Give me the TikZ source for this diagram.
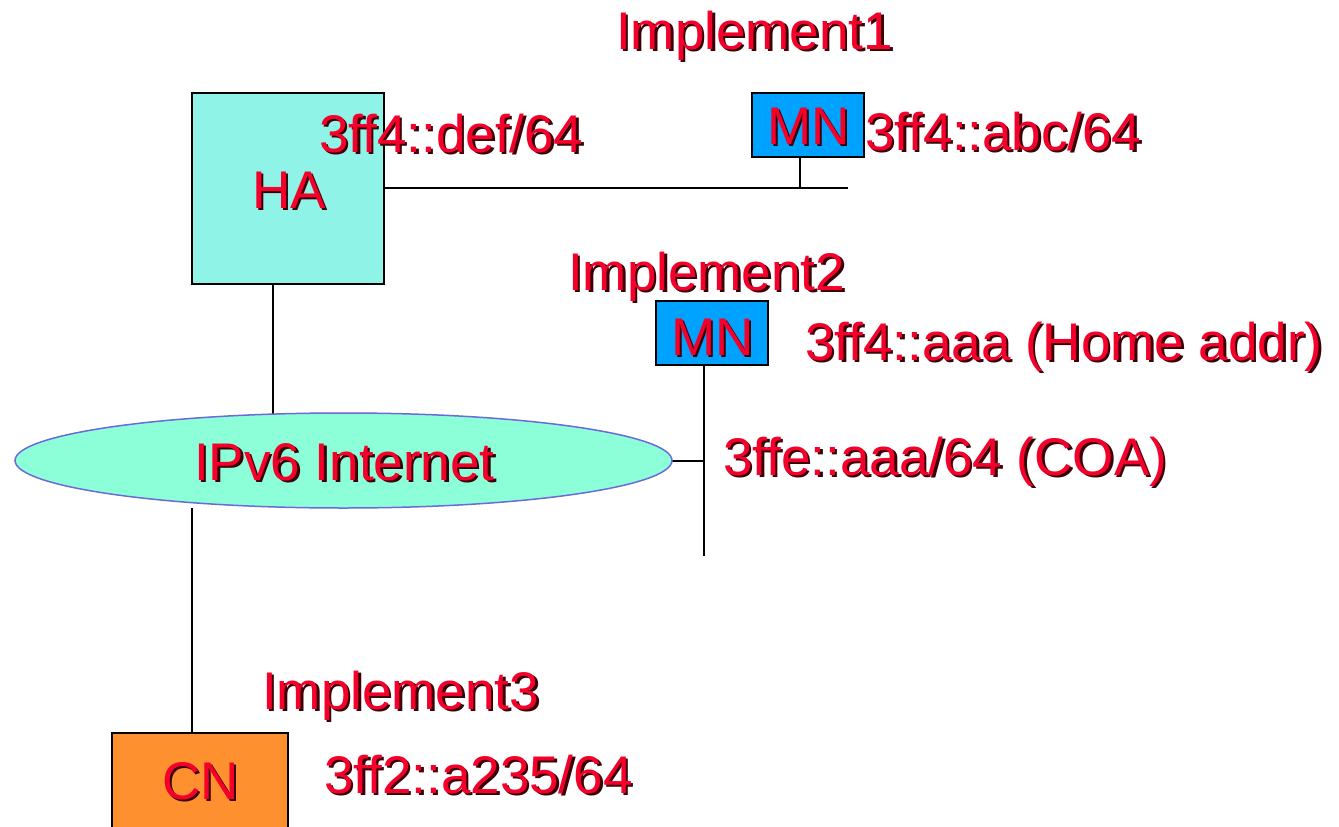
\documentclass[tikz,border=0pt]{standalone}
\usepackage{fontspec}
\setmainfont{Liberation Sans}
\usetikzlibrary{shapes.geometric}
\definecolor{txtred}{HTML}{F5002A}
\definecolor{shad}{HTML}{3A0008}
\definecolor{hafill}{HTML}{8FF3E8}
\definecolor{mnfill}{HTML}{00A2FF}
\definecolor{netfill}{HTML}{8CFFD8}
\definecolor{netline}{HTML}{6A6AD8}
\definecolor{cnfill}{HTML}{FF9030}
\tikzset{
  lbl/.style={font=\fontsize{53}{60}\selectfont, inner sep=0pt, anchor=base west, text=txtred},
  box/.style={draw=black, line width=2pt, inner sep=0pt},
  wire/.style={draw=black, line width=2pt}
}
\newcommand\shlabel[4]{%
  \node[lbl, text=shad] at (#2+2.5,#3+2.5) {#4};
  \node[lbl] (#1) at (#2,#3) {#4};}
\begin{document}
\begin{tikzpicture}[x=1pt,y=-1pt]
\useasboundingbox (0,0) rectangle (1339,827);
% nodes
\node[box, fill=hafill, minimum width=192, minimum height=191] (ha) at (288,188.5) {};
\node[box, fill=mnfill, minimum width=112, minimum height=64] (mn1) at (808,125) {};
\node[box, fill=mnfill, minimum width=112, minimum height=64] (mn2) at (712,333) {};
\node[box, fill=cnfill, minimum width=176, minimum height=110] (cn) at (200,788) {};
% connectors
\coordinate (lan1e) at (848,188);
\coordinate (t1) at (273,0);
\coordinate (t2) at (192,0);
\coordinate (v2b) at (704,556);
\coordinate (v1) at (800,0);
\draw[wire] (ha.east |- lan1e) -- (lan1e);
\draw[wire] (mn1.south -| v1) -- (v1 |- lan1e);
\draw[wire] (ha.south -| t1) -- (t1 |- 0,416);
\draw[wire] (t2 |- 0,508) -- (cn.north -| t2);
\draw[wire] (mn2.south -| v2b) -- (v2b);
\draw[wire] (672,461) -- (704,461);
\node[ellipse, draw=netline, line width=1.5pt, fill=netfill, minimum width=657, minimum height=95, inner sep=0pt] (inet) at (343.5,460.5) {};
% labels
\shlabel{l1}{616}{49}{Implement1}
\shlabel{l2}{319}{152}{3ff4::def/64}
\shlabel{l3}{252}{208}{HA}
\shlabel{l4}{767}{144}{MN}
\shlabel{l5}{865}{150}{3ff4::abc/64}
\shlabel{l6}{568}{290}{Implement2}
\shlabel{l7}{671}{355}{MN}
\shlabel{l8}{805}{360}{3ff4::aaa (Home addr)}
\shlabel{l9}{194}{480}{IPv6 Internet}
\shlabel{l10}{723}{475}{3ffe::aaa/64 (COA)}
\shlabel{l11}{262}{709}{Implement3}
\shlabel{l12}{162}{799}{CN}
\shlabel{l13}{324}{793}{3ff2::a235/64}
\end{tikzpicture}
\end{document}
